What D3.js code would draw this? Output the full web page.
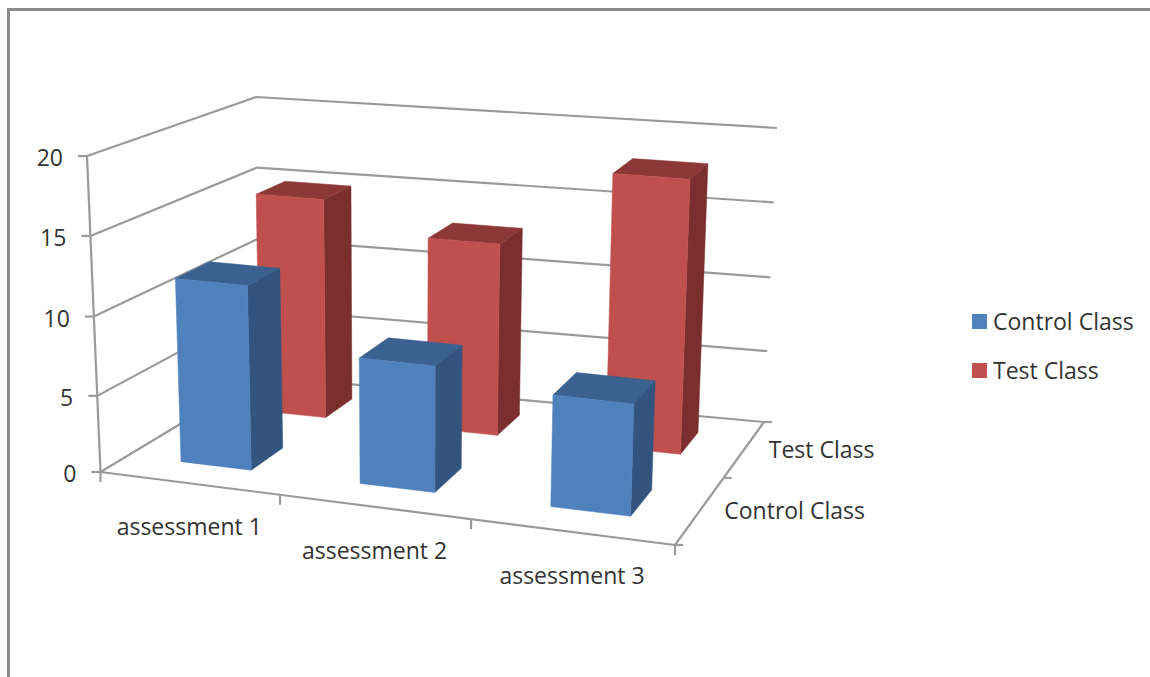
<!DOCTYPE html>
<html>
<head>
<meta charset="utf-8">
<script src="https://cdn.jsdelivr.net/npm/d3@7"></script>
<style>
    html, body { margin: 0; padding: 0; background: #fff; }
    svg { display: block; }
    text { font-family: "Open Sans", Lato, sans-serif; font-size: 23px; fill: #333; }
</style>
</head>
<body>
<svg id="chart" width="1150" height="677"></svg>
<script>
let categories = ["assessment 1", "assessment 2", "assessment 3"];
let seriesNames = ["Control Class", "Test Class"];
let controlClass = [11.9, 8.1, 7.1];
let testClass = [14.9, 12.9, 18.1];
let valueTicks = [0, 5, 10, 15, 20];

let frontColors = ["#4f81bd", "#c0504d"];
let sideColors = ["#32547f", "#7a2f2e"];
let topColors = ["#3a618f", "#8c3836"];
let lineColor = "#9a9a9a";

// screen corners of the 3d box
let floorFrontLeft = [100.5, 472], floorFrontRight = [675, 545];
let floorBackLeft = [260, 376], floorBackRight = [764, 422];
let topFrontLeft = [87, 156], topFrontRight = [687, 212];
let topBackLeft = [256, 97], topBackRight = [777, 128];

// the fractions are not even because of the perspective
let xScale = d3.scaleLinear().domain([0, 1, 2, 3]).range([0, 0.3125, 0.645, 1]);
let yScale = d3.scaleLinear().domain(valueTicks).range([0, 0.241, 0.492, 0.747, 1]);
let zScale = d3.scaleLinear().domain([0, 1, 2]).range([0, 0.545, 1]);

let mix = (a, b, t) => [a[0] + (b[0] - a[0]) * t, a[1] + (b[1] - a[1]) * t];

let project = (x, value, z) => {
    let u = xScale(x), v = yScale(value), w = zScale(z);
    let floor = mix(mix(floorFrontLeft, floorFrontRight, u), mix(floorBackLeft, floorBackRight, u), w);
    let roof = mix(mix(topFrontLeft, topFrontRight, u), mix(topBackLeft, topBackRight, u), w);
    return mix(floor, roof, v);
};

let svg = d3.select("#chart");
let line = d3.line();

let drawLine = (points) => {
    svg.append("path")
        .attr("d", line(points))
        .attr("fill", "none")
        .attr("stroke", lineColor)
        .attr("stroke-width", 2.2);
};

// picture border
svg.append("path")
    .attr("d", line([[8.5, 677], [8.5, 9.5], [1150, 9.5]]))
    .attr("fill", "none")
    .attr("stroke", "#8c8c8c")
    .attr("stroke-width", 3);

// walls
valueTicks.forEach((v) => {
    drawLine([project(0, v, 0), project(0, v, 2), project(3, v, 2)]);
    let tickEnd = project(0, v, 0);
    drawLine([tickEnd, [tickEnd[0] - 9, tickEnd[1]]]);
});

// axes
drawLine([project(0, 0, 0), project(0, 20, 0)]);
drawLine([project(0, 0, 0), project(3, 0, 0)]);
drawLine([project(3, 0, 0), project(3, 0, 2)]);

d3.range(4).forEach((i) => {
    let p = project(i, 0, 0);
    drawLine([p, [p[0], p[1] + 10]]);
});
d3.range(3).forEach((i) => {
    let p = project(3, 0, i);
    drawLine([p, [p[0] + 8, p[1]]]);
});

// bars, far row first
let drawBar = (cat, serie, value) => {
    let x0 = cat + 0.3, x1 = cat + 0.7;
    let z0 = serie + 0.32, z1 = serie + 0.72;
    let face = (points, color) => {
        svg.append("path")
            .attr("d", line(points) + "Z")
            .attr("fill", color)
            .attr("stroke", color)
            .attr("stroke-width", 0.5);
    };
    face([project(x1, 0, z0), project(x1, 0, z1), project(x1, value, z1), project(x1, value, z0)], sideColors[serie]);
    face([project(x0, value, z0), project(x1, value, z0), project(x1, value, z1), project(x0, value, z1)], topColors[serie]);
    face([project(x0, 0, z0), project(x1, 0, z0), project(x1, value, z0), project(x0, value, z0)], frontColors[serie]);
};

testClass.forEach((d, i) => drawBar(i, 1, d));
controlClass.forEach((d, i) => drawBar(i, 0, d));

// labels
valueTicks.forEach((v) => {
    let p = project(0, v, 0);
    svg.append("text")
        .attr("x", p[0] - 24)
        .attr("y", p[1] + 10)
        .attr("text-anchor", "end")
        .text(v);
});

categories.forEach((name, i) => {
    let p = project(i + 0.5, 0, 0);
    svg.append("text")
        .attr("x", p[0] - 1)
        .attr("y", p[1] + 52)
        .attr("text-anchor", "middle")
        .text(name);
});

seriesNames.forEach((name, i) => {
    let p = project(3, 0, i + 0.5);
    svg.append("text")
        .attr("x", p[0] + 25)
        .attr("y", p[1] + 8)
        .text(name);
});

// legend
seriesNames.forEach((name, i) => {
    let g = svg.append("g").attr("transform", "translate(972," + (314 + i * 49) + ")");
    g.append("rect")
        .attr("width", 15)
        .attr("height", 15)
        .attr("fill", frontColors[i]);
    g.append("text")
        .attr("x", 21)
        .attr("y", 16)
        .text(name);
});
</script>
</body>
</html>
